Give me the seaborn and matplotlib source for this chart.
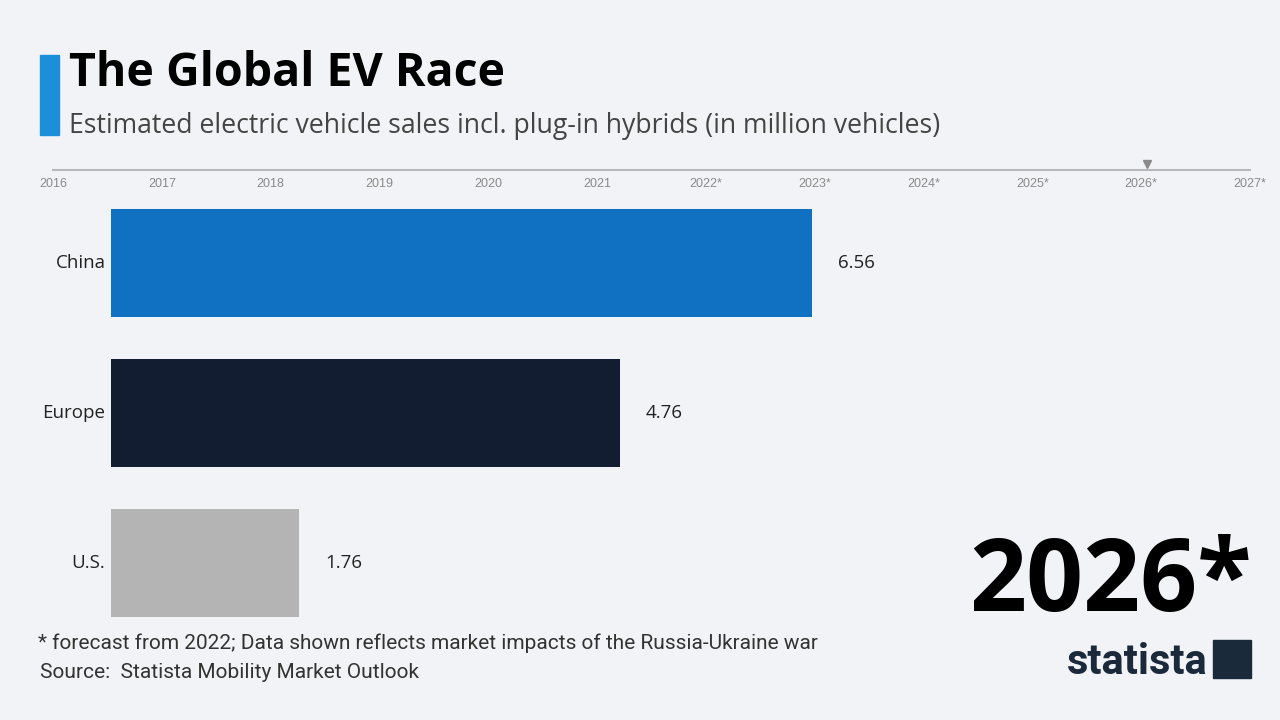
import matplotlib
matplotlib.use("Agg")
import matplotlib.pyplot as plt
import seaborn as sns
import pandas as pd
from matplotlib.patches import Rectangle

# ---- data ----
regions = ["China", "Europe", "U.S."]
sales = [6.56, 4.76, 1.76]
bar_colors = ["#1070c2", "#131d32", "#b4b4b4"]
years = list(range(2016, 2028))
year_labels = ["2016", "2017", "2018", "2019", "2020", "2021",
               "2022*", "2023*", "2024*", "2025*", "2026*", "2027*"]
current_year = 2026
current_label = "2026*"

BG = "#f2f3f7"
sns.set_theme(style="white")
plt.rcParams["font.family"] = ["Open Sans", "DejaVu Sans"]

W, H = 1280, 720
fig = plt.figure(figsize=(12.8, 7.2), dpi=100, facecolor=BG)

def px_axes(x0, y0, x1, y1):
    return fig.add_axes([x0 / W, 1 - y1 / H, (x1 - x0) / W, (y1 - y0) / H])

# ---- main bars ----
ax = px_axes(111, 188, 1180, 638)
ax.set_facecolor(BG)
df = pd.DataFrame({"region": regions, "sales": sales})
sns.barplot(data=df, y="region", x="sales", hue="region", palette=bar_colors,
            orient="h", width=0.72, ax=ax, legend=False, saturation=1,
            linewidth=0, edgecolor="none")
ax.set_xlim(0, 10)
ax.set_ylim(2.5, -0.5)
ax.set_xlabel("")
ax.set_ylabel("")
ax.set_xticks([])
for s in ax.spines.values():
    s.set_visible(False)
ax.tick_params(axis="y", length=0, pad=4, labelsize=13.5, labelcolor="#222222")
for lbl in ax.get_yticklabels():
    lbl.set_va("center")
for i, v in enumerate(sales):
    ax.text(v + 0.245, i, f"{v:.2f}", va="center", ha="left",
            fontsize=13.5, color="#222222")

# ---- timeline ----
tl = px_axes(53, 150, 1250, 170)
tl.set_facecolor("none")
tl.set_xlim(years[0], years[-1])
tl.set_ylim(0, 1)
tl.set_yticks([])
for k in ["top", "left", "right"]:
    tl.spines[k].set_visible(False)
tl.spines["bottom"].set_color("#b8b8bc")
tl.spines["bottom"].set_linewidth(1.5)
tl.set_xticks(years)
tl.set_xticklabels(year_labels, family=["Liberation Sans", "DejaVu Sans"])
tl.tick_params(axis="x", direction="in", length=4, width=1, color="#b8b8bc",
               labelsize=9, labelcolor="#8a8a8a", pad=6)
tl.plot([current_year + 0.05], [0.3], marker="v", color="#8a8a8a",
        markersize=6, clip_on=False)

# ---- title block ----
fig.patches.append(Rectangle((40 / W, 1 - 135 / H), 19 / W, 80 / H,
                             transform=fig.transFigure, color="#1b8fd8"))
fig.text(69 / W, 1 - 74 / H, "The Global EV Race", fontsize=33.5,
         fontweight="bold", color="#000000", va="center", ha="left")
fig.text(69 / W, 1 - 126 / H,
         "Estimated electric vehicle sales incl. plug-in hybrids (in million vehicles)",
         fontsize=19.2, color="#444444", va="center", ha="left")

# ---- big year ----
fig.text(1252 / W, 1 - 584 / H, current_label, fontsize=72, fontweight="bold",
         color="#000000", va="center", ha="right")

# ---- footnotes ----
foot_font = ["Roboto", "DejaVu Sans"]
fig.text(38 / W, 1 - 643 / H,
         "* forecast from 2022; Data shown reflects market impacts of the Russia-Ukraine war",
         fontsize=15, color="#333333", va="center", ha="left", family=foot_font)
fig.text(40 / W, 1 - 673 / H, "Source:  Statista Mobility Market Outlook",
         fontsize=15, color="#333333", va="center", ha="left", family=foot_font)

# ---- statista logo ----
fig.text(1208 / W, 1 - 662 / H, "statista", fontsize=30, fontweight="bold",
         color="#1b2a3b", va="center", ha="right", family=foot_font)
fig.patches.append(Rectangle((1213 / W, 1 - 678 / H), 38 / W, 38 / H,
                             transform=fig.transFigure, color="#1b2a3b"))

fig.savefig("out.png", dpi=100, facecolor=BG)
